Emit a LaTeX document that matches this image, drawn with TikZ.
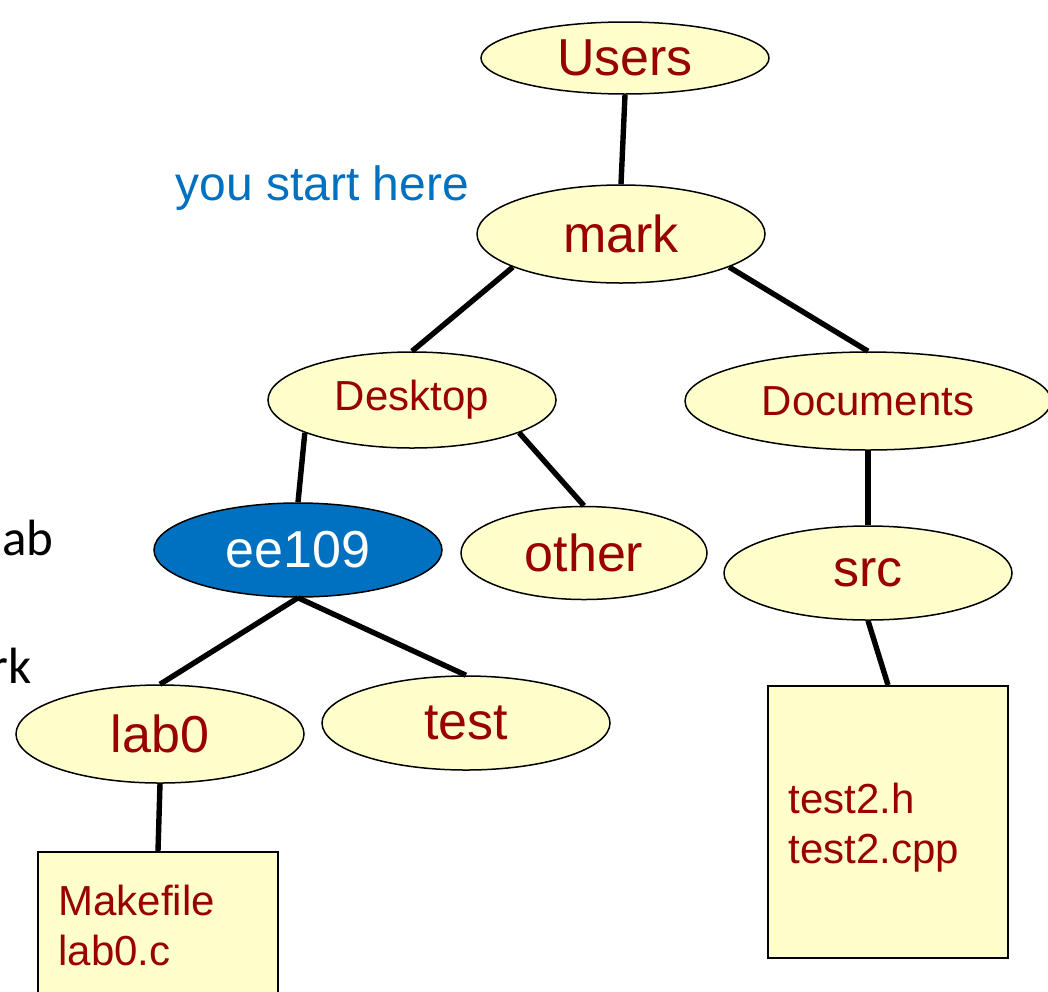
\documentclass[tikz,border=0pt]{standalone}
\usepackage{fontspec}
\setmainfont{Liberation Sans}
\newfontfamily\calib{Carlito}
\usetikzlibrary{shapes.geometric}
\definecolor{dred}{HTML}{990000}
\definecolor{nodefill}{HTML}{FFFFCC}
\definecolor{pblue}{HTML}{0070C0}
\tikzset{
  ell/.style={ellipse, draw=black, line width=0.75pt, fill=nodefill, text=dred, inner sep=0pt, font=\fontsize{26}{30}\selectfont},
  smallell/.style={ell, font=\fontsize{21}{25}\selectfont},
  filebox/.style={rectangle, draw=black, line width=1pt, fill=nodefill, inner sep=0pt},
  filetext/.style={anchor=base west, text=dred, inner sep=0pt, font=\fontsize{21}{25}\selectfont},
  edge/.style={line width=2.7pt, black},
  cut/.style={anchor=base east, inner sep=0pt, text=black, font=\calib\fontsize{25.5}{29}\selectfont}
}
\begin{document}
\begin{tikzpicture}[x=0.5pt,y=-0.5pt]
\useasboundingbox (0,0) rectangle (1048,991);
\clip (0,0) rectangle (1048,991);
% nodes
\node[ell, minimum width=144pt, minimum height=36pt] (users) at (625,58) {Users};
\node[ell, minimum width=144pt, minimum height=49pt] (mark) at (621,234) {mark};
\node[smallell, minimum width=144pt, minimum height=48pt] (desktop) at (412,400) {Desktop};
\node[smallell, minimum width=183pt, minimum height=49pt] (documents) at (868,401) {Documents};
\node[ell, fill=pblue, text=white, minimum width=144pt, minimum height=47pt] (ee109) at (298,550) {ee109};
\node[ell, minimum width=123pt, minimum height=46.5pt] (other) at (584,553) {other};
\node[ell, minimum width=144pt, minimum height=47pt] (src) at (868,573) {src};
\node[ell, minimum width=144pt, minimum height=49pt] (lab0) at (160,734) {lab0};
\node[ell, minimum width=144pt, minimum height=47pt] (test) at (466,723) {test};
\node[filebox, minimum width=120pt, minimum height=124pt] (labbox) at (158,976) {};
\node[filebox, minimum width=120pt, minimum height=136pt] (srcbox) at (888,822) {};
% file texts
\node[filetext] (mk) at (58,915) {Makefile};
\node[filetext] (lc) at (58,965) {lab0.c};
\node[filetext] (th) at (788,813) {test2.h};
\node[filetext] (tc) at (788,863) {test2.cpp};
% labels
\node[anchor=base west, inner sep=0pt, text=pblue, font=\fontsize{24}{28}\selectfont] (here) at (175,200) {you start here};
\node[cut] (ab) at (54,555) {ab};
\node[cut] (rk) at (32,683) {rk};
% edges
\draw[edge] (users.south) -- (mark.north);
\draw[edge] (mark.197) -- (desktop.north);
\draw[edge] (mark.-17) -- (documents.north);
\draw[edge] (desktop.197) -- (ee109.north);
\draw[edge] (desktop.-17) -- (other.north);
\draw[edge] (documents.south) -- (src.north);
\draw[edge] (ee109.south) -- (lab0.north);
\draw[edge] (ee109.south) -- (test.north);
\draw[edge] (src.south) -- (srcbox.north);
\draw[edge] (lab0.south) -- (labbox.north);
\end{tikzpicture}
\end{document}
